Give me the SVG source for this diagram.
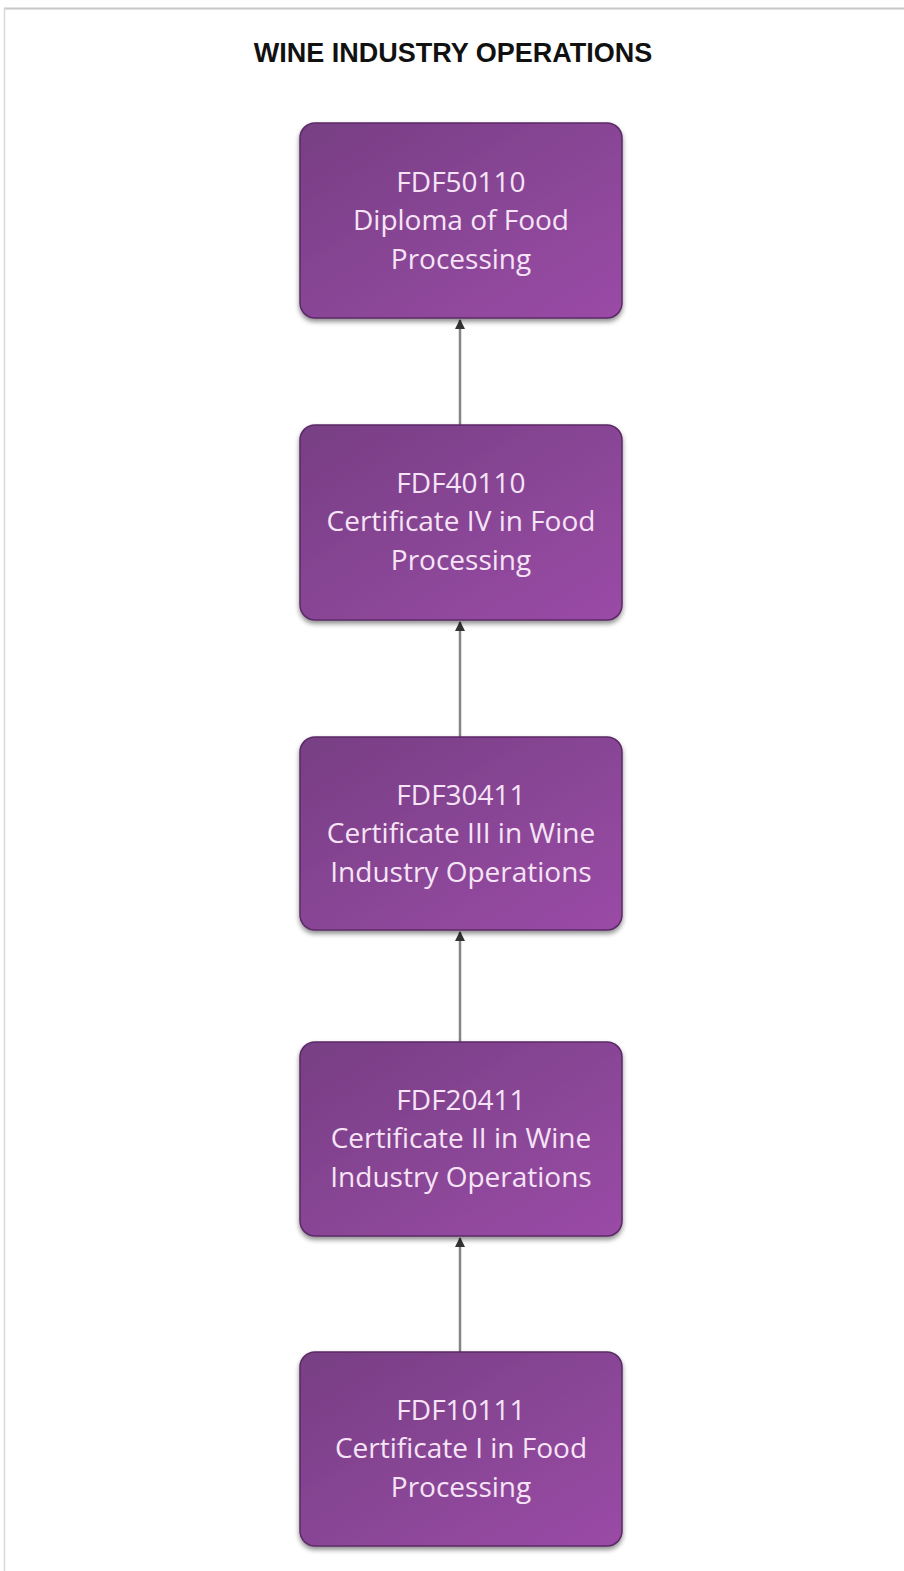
<svg xmlns="http://www.w3.org/2000/svg" width="904" height="1571" viewBox="0 0 904 1571">
<defs>
<linearGradient id="g" x1="0" y1="0" x2="1" y2="1">
<stop offset="0" stop-color="#773f84"/>
<stop offset="1" stop-color="#9a4ba6"/>
</linearGradient>
<filter id="sh" x="-10%" y="-10%" width="120%" height="125%">
<feGaussianBlur in="SourceAlpha" stdDeviation="2.5"/>
<feOffset dx="0" dy="3" result="b"/>
<feComponentTransfer><feFuncA type="linear" slope="0.45"/></feComponentTransfer>
<feMerge><feMergeNode/><feMergeNode in="SourceGraphic"/></feMerge>
</filter>
<marker id="ah" viewBox="0 0 10 10" refX="9" refY="5" markerWidth="10" markerHeight="10" markerUnits="userSpaceOnUse" orient="auto">
<path d="M0,0 L10,5 L0,10 z" fill="#333"/>
</marker>
</defs>
<style>
.box{fill:url(#g);stroke:#5b2a66;stroke-width:1.5;filter:url(#sh)}
.t{font-family:"Open Sans","Liberation Sans",Arial,sans-serif;font-size:28px;fill:#f6e4f6;text-anchor:middle}
.title{font-family:"Liberation Sans",Arial,sans-serif;font-size:27px;font-weight:bold;fill:#111;text-anchor:middle}
.c{stroke:#858585;stroke-width:2.5;fill:none;marker-end:url(#ah)}
</style>
<rect width="904" height="1571" fill="#fff"/>
<line x1="4" y1="8.5" x2="904" y2="8.5" stroke="#c8c8c8" stroke-width="2"/>
<line x1="4.5" y1="8" x2="4.5" y2="1571" stroke="#d8d8d8" stroke-width="1.5"/>
<text class="title" x="453" y="62">WINE INDUSTRY OPERATIONS</text>
<g id="connectors">
<line class="c" x1="460" y1="425" x2="460" y2="320"/>
<line class="c" x1="460" y1="737" x2="460" y2="622"/>
<line class="c" x1="460" y1="1042" x2="460" y2="932"/>
<line class="c" x1="460" y1="1352" x2="460" y2="1238"/>
</g>
<g id="n1">
<rect class="box" x="300" y="123" width="322" height="195" rx="15"/>
<text class="t" x="461" y="192">FDF50110</text>
<text class="t" x="461" y="230">Diploma of Food</text>
<text class="t" x="461" y="269">Processing</text>
</g>
<g id="n2">
<rect class="box" x="300" y="425" width="322" height="195" rx="15"/>
<text class="t" x="461" y="493">FDF40110</text>
<text class="t" x="461" y="531">Certificate IV in Food</text>
<text class="t" x="461" y="570">Processing</text>
</g>
<g id="n3">
<rect class="box" x="300" y="737" width="322" height="193" rx="15"/>
<text class="t" x="461" y="805">FDF30411</text>
<text class="t" x="461" y="843">Certificate III in Wine</text>
<text class="t" x="461" y="882">Industry Operations</text>
</g>
<g id="n4">
<rect class="box" x="300" y="1042" width="322" height="194" rx="15"/>
<text class="t" x="461" y="1110">FDF20411</text>
<text class="t" x="461" y="1148">Certificate II in Wine</text>
<text class="t" x="461" y="1187">Industry Operations</text>
</g>
<g id="n5">
<rect class="box" x="300" y="1352" width="322" height="194" rx="15"/>
<text class="t" x="461" y="1420">FDF10111</text>
<text class="t" x="461" y="1458">Certificate I in Food</text>
<text class="t" x="461" y="1497">Processing</text>
</g>
</svg>
